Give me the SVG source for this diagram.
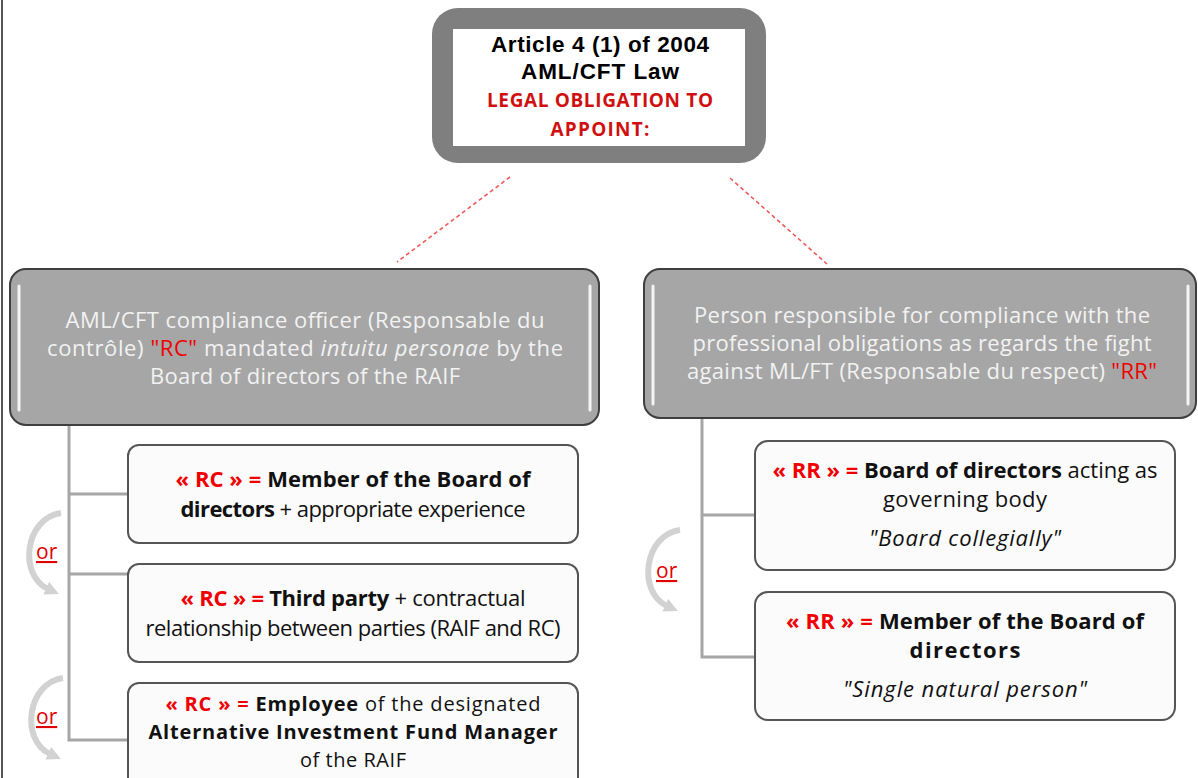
<svg xmlns="http://www.w3.org/2000/svg" width="1198" height="778" viewBox="0 0 1198 778">
<style>
.dash{stroke:#f05a5a;stroke-width:1.6;stroke-dasharray:4 3;fill:none}
.conn{stroke:#a6a6a6;stroke-width:3;fill:none}
.gbox{fill:#a6a6a6;stroke:#3f3f3f;stroke-width:2}
.hl{stroke:#f4f4f4;stroke-width:3;stroke-linecap:round}
.wbox{fill:#fbfbfb;stroke:#555;stroke-width:2}
.gt{font-family:"Open Sans","Noto Sans",sans-serif;font-size:22px;fill:#f2f2f2;text-anchor:middle}
.bt{font-family:"Open Sans","Noto Sans",sans-serif;font-size:22px;fill:#111;text-anchor:middle}
.sm{font-size:20px}
.b{font-weight:bold}
.red{fill:#f00000}
.rb{fill:#f00000;font-weight:bold}
.it{font-style:italic}
.or{font-family:"Open Sans","Noto Sans",sans-serif;font-size:21px;fill:#e00000;text-decoration:underline}
.arc{stroke:#d2d2d2;stroke-width:6;fill:none;marker-end:url(#ah)}
</style>
<defs>
<marker id="ah" markerUnits="userSpaceOnUse" markerWidth="16" markerHeight="16" refX="2" refY="7" orient="auto">
<path d="M0,0 L14,7 L0,14 z" fill="#d2d2d2"/>
</marker>
<g id="orarrow">
<path class="arc" d="M61 513 C 25 518, 18 575, 48 589"/>
</g>
</defs>
<line x1="2" y1="0" x2="2" y2="778" stroke="#555" stroke-width="2"/>
<g id="connectors">
<line class="dash" x1="510" y1="177" x2="397" y2="262"/>
<line class="dash" x1="730" y1="178" x2="827" y2="264"/>
<polyline class="conn" points="69,425 69,740 128,740"/>
<line class="conn" x1="69" y1="494" x2="128" y2="494"/>
<line class="conn" x1="69" y1="574" x2="128" y2="574"/>
<polyline class="conn" points="702,418 702,657 755,657"/>
<line class="conn" x1="702" y1="515" x2="755" y2="515"/>
</g>
<g id="top">
<rect x="432" y="8" width="334" height="155" rx="26" fill="#7f7f7f"/>
<rect x="453" y="29" width="292" height="117" fill="#ffffff"/>
<text x="600" y="52" font-family="Liberation Sans,Arial,sans-serif" font-size="22.5" font-weight="bold" text-anchor="middle" textLength="218">Article 4 (1) of 2004</text>
<text x="600" y="79" font-family="Liberation Sans,Arial,sans-serif" font-size="22.5" font-weight="bold" text-anchor="middle" textLength="158">AML/CFT Law</text>
<text x="600" y="107" font-family="Open Sans,Noto Sans,sans-serif" font-size="19" font-weight="bold" fill="#d01010" text-anchor="middle" textLength="226">LEGAL OBLIGATION TO</text>
<text x="600" y="136" font-family="Open Sans,Noto Sans,sans-serif" font-size="19" font-weight="bold" fill="#d01010" text-anchor="middle" textLength="99">APPOINT:</text>
</g>
<g id="rc">
<rect class="gbox" x="10" y="269" width="589" height="156" rx="16"/>
<line class="hl" x1="19" y1="286" x2="19" y2="410"/>
<line class="hl" x1="590" y1="286" x2="590" y2="410"/>
<text class="gt" x="305" y="328" textLength="479">AML/CFT compliance officer (Responsable du</text>
<text class="gt" x="305" y="356" textLength="516">contrôle) <tspan class="red">"RC"</tspan> mandated <tspan class="it">intuitu personae</tspan> by the</text>
<text class="gt" x="305" y="384" textLength="310">Board of directors of the RAIF</text>
</g>
<g id="rr">
<rect class="gbox" x="644" y="269" width="552" height="149" rx="16"/>
<line class="hl" x1="653" y1="286" x2="653" y2="404"/>
<line class="hl" x1="1188" y1="286" x2="1188" y2="404"/>
<text class="gt" x="922" y="323" textLength="456">Person responsible for compliance with the</text>
<text class="gt" x="922" y="351" textLength="459">professional obligations as regards the fight</text>
<text class="gt" x="922" y="379" textLength="470">against ML/FT (Responsable du respect) <tspan class="red">"RR"</tspan></text>
</g>
<g id="rc1">
<rect class="wbox" x="128" y="445" width="450" height="98" rx="11"/>
<text class="bt" x="353" y="487" textLength="355"><tspan class="rb">« RC » = </tspan><tspan class="b">Member of the Board of</tspan></text>
<text class="bt" x="353" y="517" textLength="345"><tspan class="b">directors</tspan> + appropriate experience</text>
</g>
<g id="rc2">
<rect class="wbox" x="128" y="564" width="450" height="98" rx="11"/>
<text class="bt" x="353" y="606" textLength="345"><tspan class="rb">« RC » = </tspan><tspan class="b">Third party</tspan> + contractual</text>
<text class="bt" x="353" y="636" textLength="415">relationship between parties (RAIF and RC)</text>
</g>
<g id="rc3">
<rect class="wbox" x="128" y="683" width="450" height="110" rx="11"/>
<text class="bt sm" x="353" y="711" textLength="375"><tspan class="rb">« RC » = </tspan><tspan class="b">Employee</tspan> of the designated</text>
<text class="bt sm b" x="353" y="739" textLength="409">Alternative Investment Fund Manager</text>
<text class="bt sm" x="353" y="767" textLength="106">of the RAIF</text>
</g>
<g id="rr1">
<rect class="wbox" x="755" y="441" width="420" height="129" rx="13"/>
<text class="bt" x="965" y="478" textLength="385"><tspan class="rb">« RR » = </tspan><tspan class="b">Board of directors</tspan> acting as</text>
<text class="bt" x="965" y="507" textLength="164">governing body</text>
<text class="bt it" x="965" y="546" textLength="192">"Board collegially"</text>
</g>
<g id="rr2">
<rect class="wbox" x="755" y="592" width="420" height="128" rx="13"/>
<text class="bt b" x="965" y="629" textLength="358"><tspan class="red">« RR » = </tspan>Member of the Board of</text>
<text class="bt b" x="965" y="658" textLength="111">directors</text>
<text class="bt it" x="965" y="697" textLength="244">"Single natural person"</text>
</g>
<g id="or1">
<use href="#orarrow"/>
<text class="or" x="36" y="559">or</text>
</g>
<g id="or2">
<use href="#orarrow" transform="translate(2,165)"/>
<text class="or" x="36" y="724">or</text>
</g>
<g id="or3">
<use href="#orarrow" transform="translate(619,17)"/>
<text class="or" x="656" y="578">or</text>
</g>
</svg>
